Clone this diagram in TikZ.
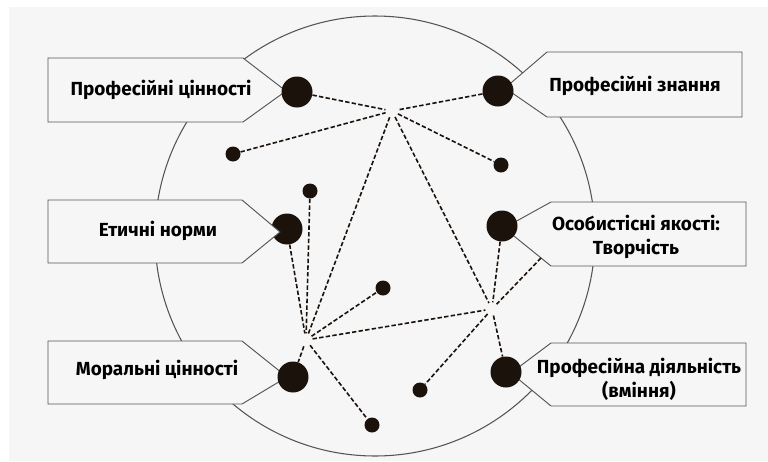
\documentclass[tikz,border=0pt]{standalone}
\usepackage{fontspec}
\setmainfont{Fira Sans}
\definecolor{bgcol}{RGB}{246,246,246}
\definecolor{dotcol}{RGB}{28,18,12}
\definecolor{linecol}{RGB}{85,85,85}
\tikzset{
  bigdot/.style={circle,fill=dotcol,inner sep=0pt,minimum size=23.25pt},
  smalldot/.style={circle,fill=dotcol,inner sep=0pt,minimum size=11.25pt},
  tagbox/.style={draw=linecol,line width=0.7pt,fill=bgcol},
  tagtext/.style={font=\fontsize{14.2}{18}\selectfont\bfseries,inner sep=0pt,align=center},
  link/.style={draw=dotcol,line width=1.2pt,dash pattern=on 3.3pt off 1.7pt},
  tohub/.style={shorten >=5pt},
  fromhub/.style={shorten <=5pt}
}
\begin{document}
\begin{tikzpicture}[x=0.75pt,y=0.75pt,yscale=-1,xscale=1]
\useasboundingbox (0,0) rectangle (768,461);
\fill[white] (0,0) rectangle (768,461);
\fill[bgcol] (9,7) rectangle (768,461);
%Shape: Circle
\draw[linecol,line width=0.8pt] (375,236) circle [radius=220];
%Shape: left tags
\draw[tagbox] (48,58) -- (243,58) -- (286,91) -- (243,122) -- (48,122) -- cycle;
\draw[tagbox] (48,341) -- (242,341) -- (287,377) -- (242,404) -- (48,404) -- cycle;
%Shape: right tags
\draw[tagbox] (742,52) -- (547,52) -- (505,88) -- (547,117) -- (742,117) -- cycle;
\draw[tagbox] (746,202) -- (551,202) -- (504,228) -- (551,266) -- (746,266) -- cycle;
\draw[tagbox] (746,343) -- (551,343) -- (511,373) -- (551,406) -- (746,406) -- cycle;
% dots
\node[bigdot] (d1) at (297,92) {};
\node[bigdot] (d2) at (498,91) {};
\node[bigdot] (d3) at (287,229) {};
\node[bigdot] (d4) at (502,226) {};
\node[bigdot] (d5) at (293,377) {};
\node[bigdot] (d6) at (506,372) {};
\node[smalldot] (s1) at (233,154) {};
\node[smalldot] (s2) at (501,165) {};
\node[smalldot] (s3) at (310,191) {};
\node[smalldot] (s4) at (383,288) {};
\node[smalldot] (s5) at (372,425) {};
\node[smalldot] (s6) at (420,390) {};
%Shape: tag over its dot
\draw[tagbox] (48,200) -- (242,200) -- (280,232) -- (242,263) -- (48,263) -- cycle;
% texts
\node[tagtext] (pc) at (161,90) {Професійні цінності};
\node[tagtext] (en) at (158,231) {Етичні норми};
\node[tagtext] (mc) at (157,370) {Моральні цінності};
\node[tagtext] (pz) at (635,86) {Професійні знання};
\node[tagtext] (ot) at (636,237) {Особистісні якості:\\Творчість};
\node[tagtext] (pd) at (639,379) {Професійна діяльність\\(вміння)};
% hubs
\coordinate (h1) at (392,111);
\coordinate (h2) at (306,340);
\coordinate (h3) at (492,309);
\coordinate (e1) at (541,258);
% dashed links
\draw[link,tohub] (d1) -- (h1);
\draw[link,tohub] (d2) -- (h1);
\draw[link,tohub] (s1) -- (h1);
\draw[link,fromhub] (h1) -- (s2);
\draw[link,fromhub,tohub] (h1) -- (h2);
\draw[link,fromhub,tohub] (h1) -- (h3);
\draw[link,tohub] (d3) -- (h2);
\draw[link,tohub] (s3) -- (h2);
\draw[link,fromhub] (h2) -- (s4);
\draw[link,fromhub] (h2) -- (d5);
\draw[link,fromhub] (h2) -- (s5);
\draw[link,fromhub,tohub] (h2) -- (h3);
\draw[link,tohub] (d4) -- (h3);
\draw[link,tohub] (e1) -- (h3);
\draw[link,fromhub] (h3) -- (s6);
\draw[link,fromhub] (h3) -- (d6);
\end{tikzpicture}
\end{document}
